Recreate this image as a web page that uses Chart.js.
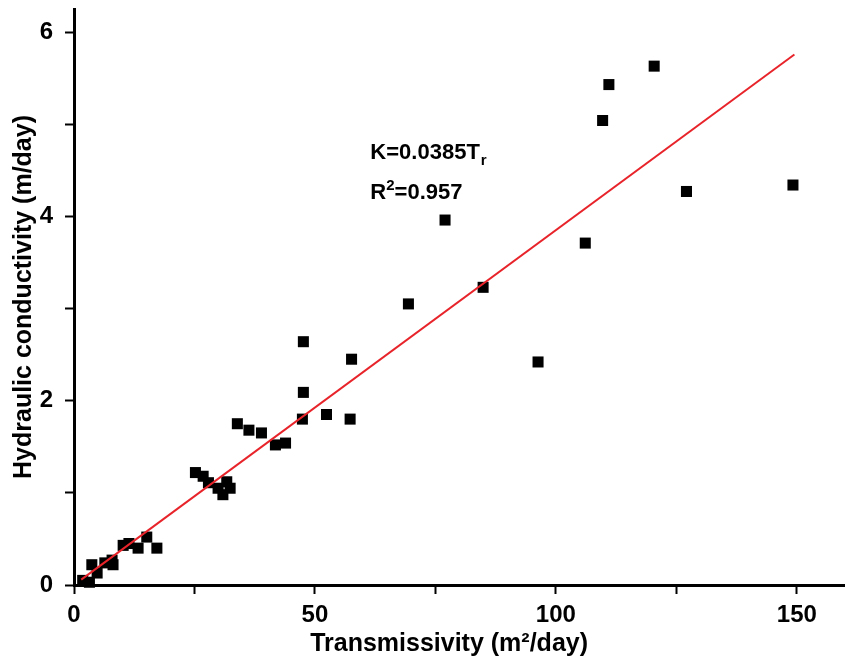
<!DOCTYPE html>
<html>
<head>
<meta charset="utf-8">
<script src="https://cdn.jsdelivr.net/npm/chart.js@4/dist/chart.umd.min.js"></script>
<style>
  html, body { margin: 0; padding: 0; background: #ffffff; }
  #c { display: block; }
</style>
</head>
<body>
<canvas id="c" width="845" height="662"></canvas>
<script>
// Transmissivity (m2/day)
const transmissivity = [
  1.8, 3.2, 3.7, 4.8, 6.4, 7.9, 8.1, 10.2, 11.4, 13.3, 15.1, 17.2,
  25.2, 26.8, 27.9, 29.9, 30.9, 31.7, 32.4,
  33.9, 36.3, 38.9, 41.8, 43.9,
  47.4, 47.6, 47.6, 52.4, 57.3, 57.6,
  69.4, 77.0, 84.9, 96.3, 106.1, 109.7, 111.0, 120.4, 127.1, 149.2
];
// Hydraulic conductivity (m/day)
const conductivity = [
  0.05, 0.03, 0.22, 0.13, 0.24, 0.27, 0.22, 0.43, 0.45, 0.40, 0.52, 0.40,
  1.22, 1.18, 1.11, 1.05, 0.98, 1.12, 1.05,
  1.75, 1.68, 1.65, 1.52, 1.54,
  1.80, 2.09, 2.64, 1.85, 1.80, 2.45,
  3.05, 3.96, 3.23, 2.42, 3.71, 5.04, 5.43, 5.63, 4.27, 4.34
];
// Fitted line K = 0.0385 Tr (end points)
const fitT = [1.5, 149.5];
const fitK = [0.058, 5.756];

const xTicks = [0, 25, 50, 75, 100, 125, 150];
const yTicks = [0, 1, 2, 3, 4, 5, 6];
const eqLine1 = "K=0.0385T";
const eqSub = "r";
const eqLine2a = "R";
const eqSup = "2";
const eqLine2b = "=0.957";
const eqAnchor = { x: 61.5, y: 4.62 };

const FONT = "'Liberation Sans', Arial, sans-serif";

const annotationPlugin = {
  id: 'eqText',
  afterDatasetsDraw(chart) {
    const ctx = chart.ctx;
    const xs = chart.scales.x, ys = chart.scales.y;
    const px = xs.getPixelForValue(eqAnchor.x);
    const py = ys.getPixelForValue(eqAnchor.y);
    ctx.save();
    ctx.fillStyle = '#000';
    ctx.textBaseline = 'alphabetic';
    ctx.textAlign = 'left';
    ctx.font = "bold 22px " + FONT;
    ctx.fillText(eqLine1, px, py);
    let w = ctx.measureText(eqLine1).width;
    ctx.font = "bold 15px " + FONT;
    ctx.fillText(eqSub, px + w + 1, py + 6);
    const py2 = py + 40;
    ctx.font = "bold 22px " + FONT;
    ctx.fillText(eqLine2a, px, py2);
    w = ctx.measureText(eqLine2a).width;
    ctx.font = "bold 15px " + FONT;
    ctx.fillText(eqSup, px + w, py2 - 9);
    const w2 = ctx.measureText(eqSup).width;
    ctx.font = "bold 22px " + FONT;
    ctx.fillText(eqLine2b, px + w + w2, py2);
    ctx.restore();
  }
};

const points = transmissivity.map((t, i) => ({ x: t, y: conductivity[i] }));
const fitPts = fitT.map((t, i) => ({ x: t, y: fitK[i] }));

new Chart(document.getElementById('c'), {
  type: 'scatter',
  data: {
    datasets: [
      {
        type: 'line',
        data: fitPts,
        borderColor: '#e8242b',
        borderWidth: 2,
        pointRadius: 0,
        fill: false,
        clip: false,
        order: 0
      },
      {
        data: points,
        pointStyle: 'rect',
        pointRadius: 7.8,
        backgroundColor: '#000',
        borderWidth: 0,
        clip: false,
        order: 1
      }
    ]
  },
  options: {
    responsive: false,
    animation: false,
    layout: { autoPadding: false, padding: { top: 9, right: 0, left: 0, bottom: 0 } },
    plugins: { legend: { display: false }, tooltip: { enabled: false } },
    scales: {
      x: {
        type: 'linear',
        min: 0,
        max: 160,
        afterBuildTicks: s => { s.ticks = xTicks.map(v => ({ value: v })); },
        afterFit: s => { s.height = 77; s.paddingLeft = 0; s.paddingRight = 0; },
        ticks: {
          callback: v => (v % 50 === 0 ? String(v) : ''),
          font: { family: FONT, size: 24, weight: 'bold' },
          color: '#000',
          padding: 7,
          maxRotation: 0,
          autoSkip: false
        },
        grid: { display: true, drawOnChartArea: false, drawTicks: true, tickLength: 9, tickWidth: 2, tickColor: '#000' },
        border: { display: true, color: '#000', width: 3 },
        title: {
          display: true,
          text: 'Transmissivity (m\u00B2/day)   ',
          font: { family: FONT, size: 25, weight: 'bold' },
          color: '#000',
          padding: { top: 0, bottom: 3 }
        }
      },
      y: {
        type: 'linear',
        min: 0,
        max: 6.25,
        afterBuildTicks: s => { s.ticks = yTicks.map(v => ({ value: v })); },
        afterFit: s => { s.width = 74; s.paddingTop = 0; s.paddingBottom = 0; },
        ticks: {
          callback: v => (v % 2 === 0 ? String(v) : ''),
          font: { family: FONT, size: 24, weight: 'bold' },
          color: '#000',
          padding: 12
        },
        grid: { display: true, drawOnChartArea: false, drawTicks: true, tickLength: 9, tickWidth: 2, tickColor: '#000' },
        border: { display: true, color: '#000', width: 3 },
        title: {
          display: true,
          text: 'Hydraulic conductivity (m/day)',
          font: { family: FONT, size: 25, weight: 'bold' },
          color: '#000',
          padding: { top: 9, bottom: 0 }
        }
      }
    }
  },
  plugins: [annotationPlugin]
});
</script>
</body>
</html>
